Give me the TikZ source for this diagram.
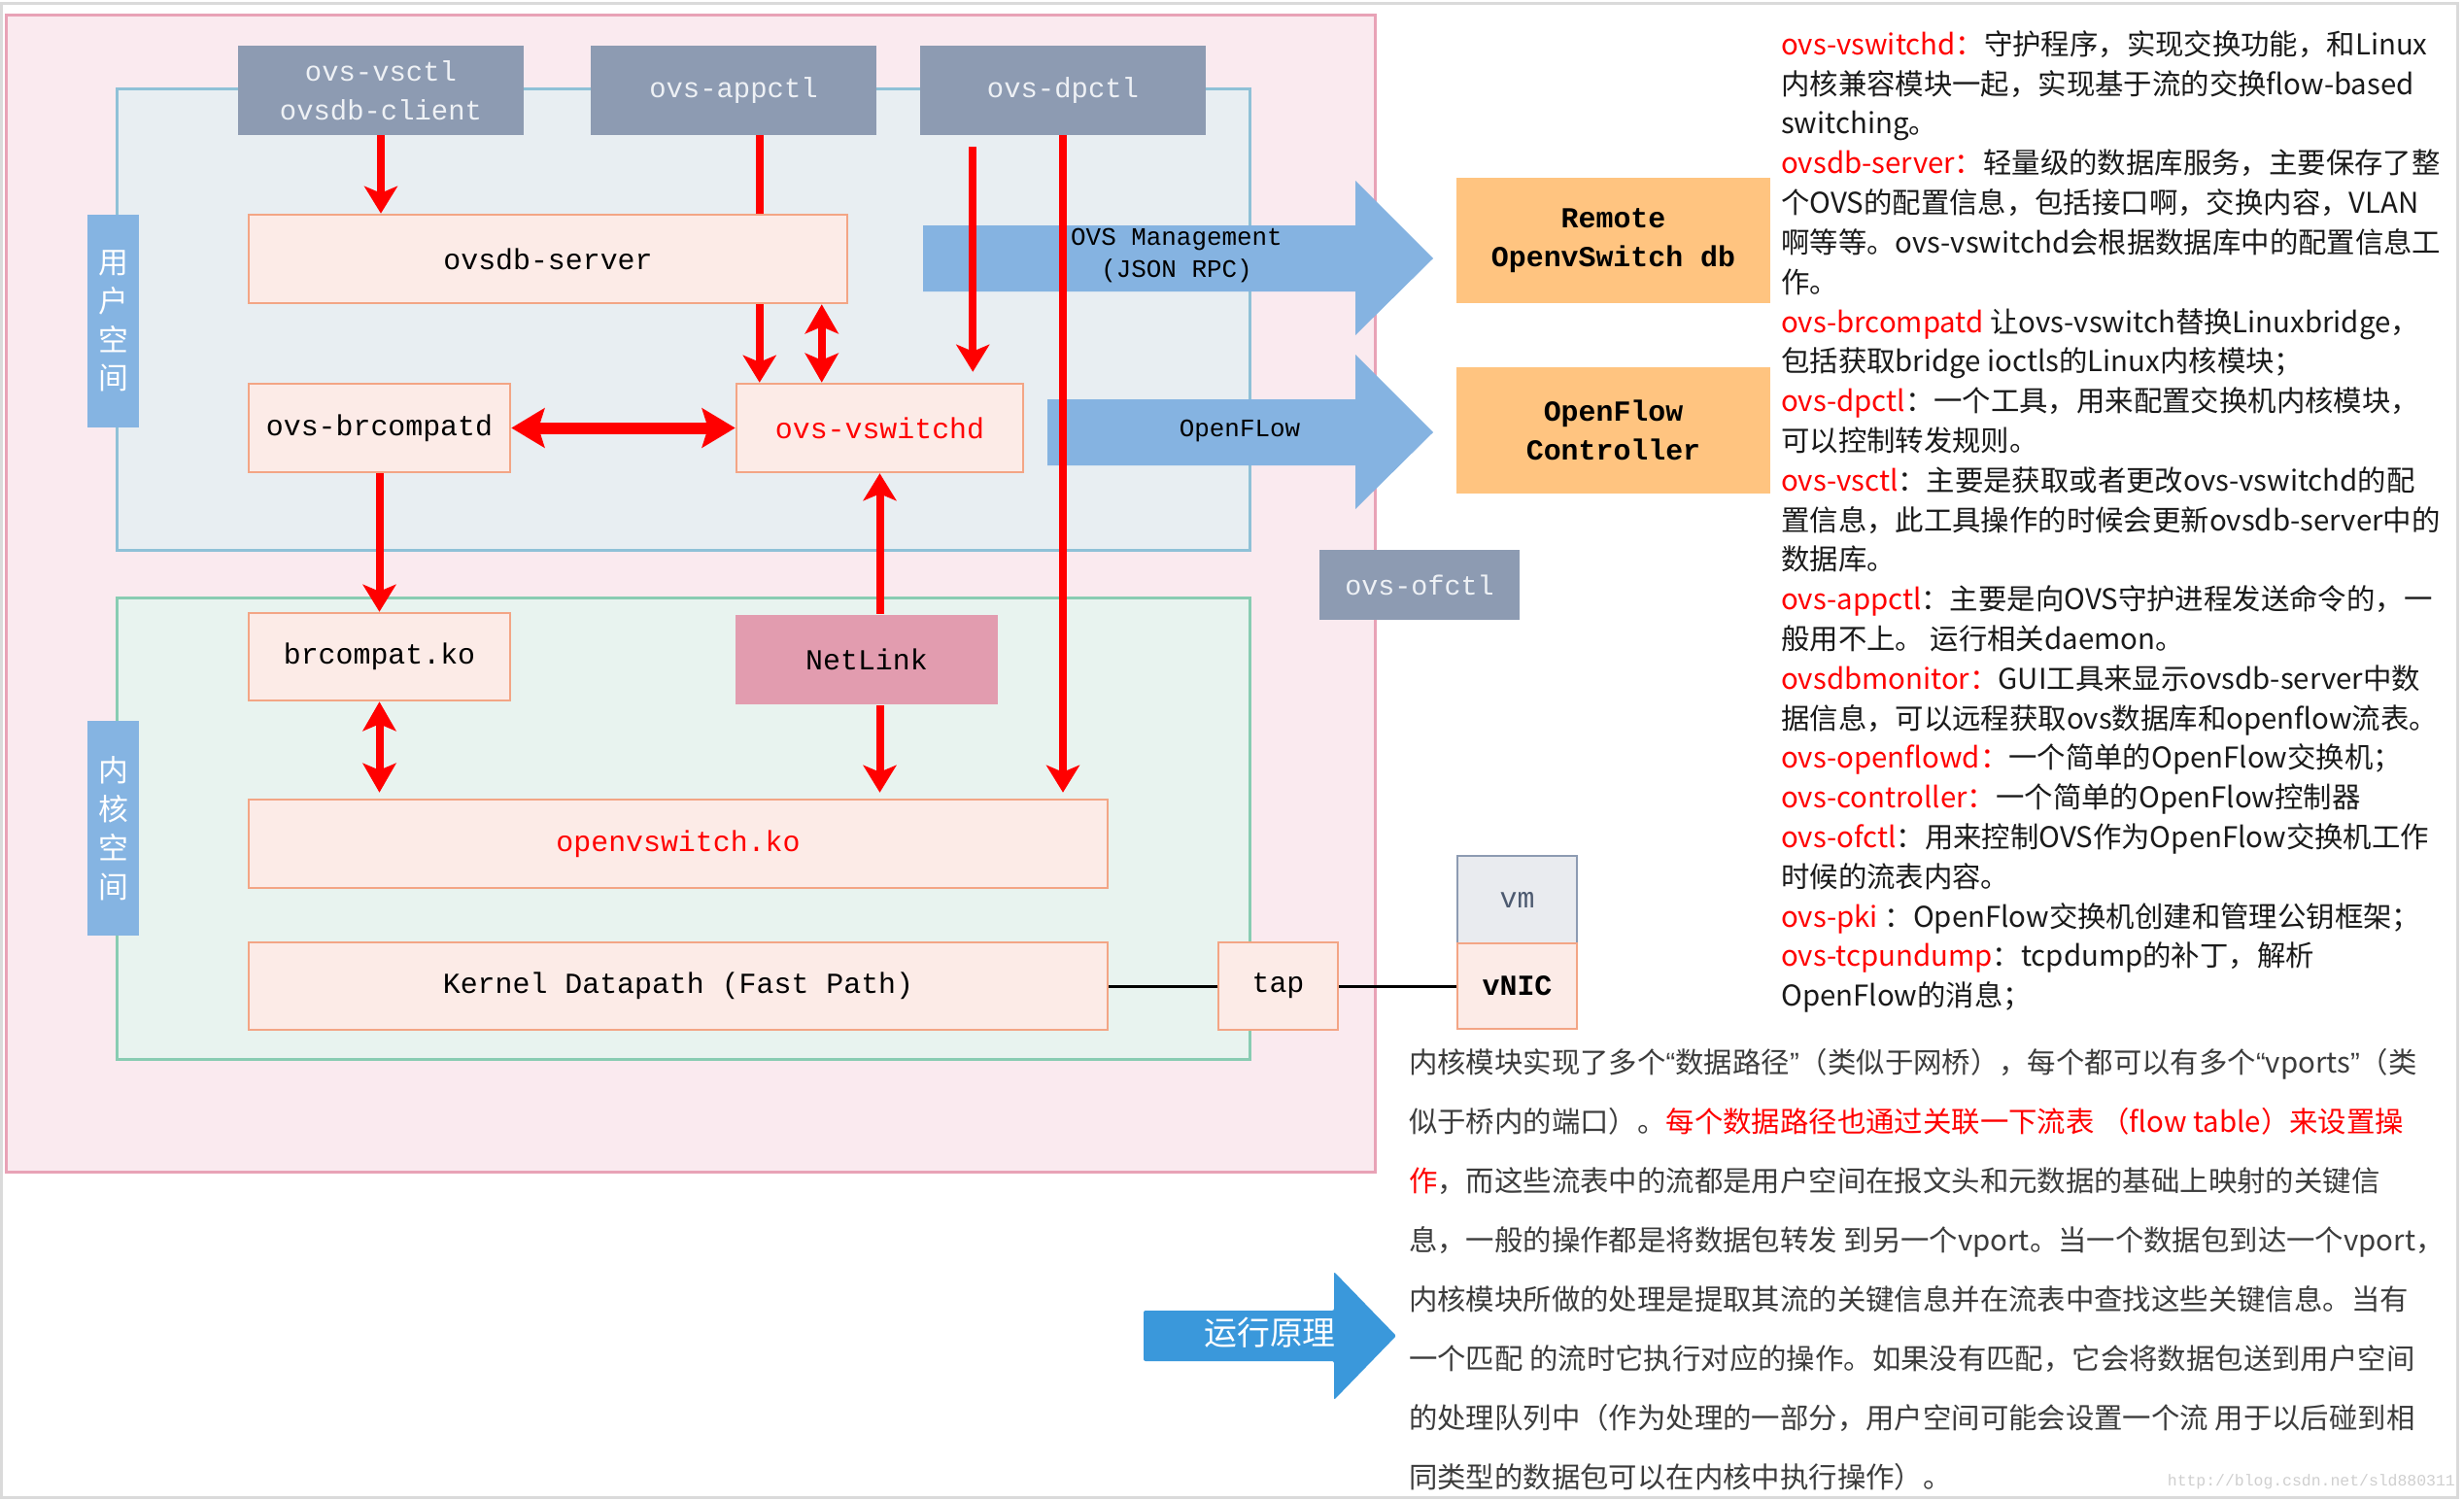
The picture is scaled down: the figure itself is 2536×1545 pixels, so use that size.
\documentclass[tikz,border=0pt]{standalone}
\usepackage{fontspec}
\usetikzlibrary{arrows.meta,calc}
\newfontfamily\boxfont{Liberation Mono}
\newfontfamily\cjk{Noto Sans CJK SC}
\newfontfamily\latq{Liberation Sans}
\definecolor{pinkfill}{HTML}{FAEAEF}
\definecolor{pinkline}{HTML}{E8A2B6}
\definecolor{userfill}{HTML}{E8EEF2}
\definecolor{userline}{HTML}{8FC1D7}
\definecolor{kernfill}{HTML}{E8F3EF}
\definecolor{kernline}{HTML}{88CCB2}
\definecolor{boxfill}{HTML}{FCEBE7}
\definecolor{boxline}{HTML}{F3A585}
\definecolor{grayfill}{HTML}{8D9BB2}
\definecolor{graytext}{HTML}{EEF1F5}
\definecolor{netfill}{HTML}{E29CAF}
\definecolor{orangefill}{HTML}{FFC480}
\definecolor{lblblue}{HTML}{85B4E2}
\definecolor{arrowblue}{HTML}{85B3E1}
\definecolor{runblue}{HTML}{3A98DB}
\definecolor{vmfill}{HTML}{E9EBEF}
\definecolor{vmtext}{HTML}{4D5A70}
\definecolor{txtred}{HTML}{FF0000}
\definecolor{txtblack}{HTML}{1A1A1A}
\definecolor{txtgray}{HTML}{3C3C3C}
\definecolor{framegray}{HTML}{DADADA}
\definecolor{markgray}{HTML}{CFCFCF}
\newcommand\R[1]{{\color{txtred}#1}}
\newcommand\openq{{\latq “}}
\newcommand\closeq{{\latq ”}}
\pgfdeclarelayer{back}
\pgfdeclarelayer{mid}
\pgfsetlayers{back,mid,main}
\tikzset{
  box/.style={draw=boxline, fill=boxfill, line width=2.5bp, inner sep=0pt,
    font=\boxfont\fontsize{30}{36}\selectfont, text=black},
  gbox/.style={draw=none, fill=grayfill, inner sep=0pt, text=graytext, align=center,
    font=\boxfont\fontsize{29}{40}\selectfont},
  obox/.style={draw=none, fill=orangefill, inner sep=0pt, text=black, align=center,
    font=\boxfont\bfseries\fontsize{30}{40}\selectfont},
  vlabel/.style={draw=none, fill=lblblue, inner sep=0pt, text=white, align=center,
    font=\cjk\fontsize{31}{40}\selectfont},
  rarr/.style={draw=txtred, line width=8bp, -{Stealth[length=28bp,width=34bp,inset=7bp]}},
  rdarr/.style={draw=txtred, line width=8bp, {Stealth[length=30bp,width=34bp,inset=7bp]}-{Stealth[length=30bp,width=34bp,inset=7bp]}},
  rhdarr/.style={draw=txtred, line width=12bp, {Stealth[length=34bp,width=40bp,inset=6bp]}-{Stealth[length=34bp,width=40bp,inset=6bp]}},
  blink/.style={draw=black, line width=3bp},
  rtext/.style={inner sep=0pt, anchor=base west, text=txtblack, font=\cjk\fontsize{29.5}{36}\selectfont},
  btext/.style={inner sep=0pt, anchor=base west, text=txtgray, font=\cjk\fontsize{29.5}{36}\selectfont},
}
\newcommand\rline[2]{\node[rtext] (r#1) at (1833,{56.4+40.8*(#1-1)}) {#2};}
\newcommand\bline[2]{\node[btext] (b#1) at (1450,{1104+61*(#1-1)}) {#2};}
\begin{document}
\begin{tikzpicture}[x=1bp,y=-1bp]
\useasboundingbox (0,0) rectangle (2536,1545);
\begin{pgfonlayer}{back}
\fill[white] (0,0) rectangle (2536,1545);
\draw[framegray, line width=3bp] (1.5,3.5) rectangle (2529.5,1541.5);
\draw[pinkline, fill=pinkfill, line width=3bp] (6,16) rectangle (1415,1206);
\draw[userline, fill=userfill, line width=3bp] (120,92) rectangle (1286,566);
\draw[kernline, fill=kernfill, line width=3bp] (120,615) rectangle (1286,1090);
\end{pgfonlayer}

% nodes
\node[vlabel, minimum width=53bp, minimum height=219bp] (lblU) at (116.5,330.5) {用\\户\\空\\间};
\node[vlabel, minimum width=53bp, minimum height=221bp] (lblK) at (116.5,852.5) {内\\核\\空\\间};
\node[gbox, minimum width=294bp, minimum height=92bp] (vsctl) at (392,93) {ovs-vsctl\\ovsdb-client};
\node[gbox, minimum width=294bp, minimum height=92bp] (appctl) at (755,93) {ovs-appctl};
\node[gbox, minimum width=294bp, minimum height=92bp] (dpctl) at (1094,93) {ovs-dpctl};
\node[box, minimum width=616bp, minimum height=91bp] (ovsdb) at (564,266.5) {ovsdb-server};
\node[box, minimum width=269bp, minimum height=91bp] (brcompatd) at (390.5,440.5) {ovs-brcompatd};
\node[box, minimum width=295bp, minimum height=91bp, text=txtred] (vswitchd) at (905.5,440.5) {ovs-vswitchd};
\node[box, minimum width=269bp, minimum height=90bp] (brcompat) at (390.5,676) {brcompat.ko};
\node[box, draw=none, fill=netfill, minimum width=270bp, minimum height=92bp] (netlink) at (892,679) {NetLink};
\node[box, minimum width=884bp, minimum height=91bp, text=txtred] (ovsko) at (698,868.5) {openvswitch.ko};
\node[box, minimum width=884bp, minimum height=90bp] (kdp) at (698,1015) {Kernel Datapath (Fast Path)};
\node[box, minimum width=123bp, minimum height=90bp] (tap) at (1315.5,1015) {tap};
\node[box, draw=grayfill, fill=vmfill, text=vmtext, minimum width=123bp, minimum height=90bp] (vm) at (1561.5,926) {vm};
\node[box, minimum width=123bp, minimum height=88bp, font=\boxfont\bfseries\fontsize{30}{36}\selectfont] (vnic) at (1561.5,1015) {vNIC};
\node[obox, minimum width=323bp, minimum height=129bp] (remote) at (1660.5,247.5) {Remote\\OpenvSwitch db};
\node[obox, minimum width=323bp, minimum height=130bp] (ofc) at (1660.5,443) {OpenFlow\\Controller};
\node[gbox, minimum width=206bp, minimum height=72bp, font=\boxfont\fontsize{28.5}{34}\selectfont] (ofctl) at (1461,602) {ovs-ofctl};

% blue arrows and red connectors
\begin{pgfonlayer}{mid}
\fill[arrowblue] (950,232) -- (1395,232) -- (1395,186) -- (1475,266) -- (1395,345) -- (1395,300) -- (950,300) -- cycle;
\fill[arrowblue] (1078,411) -- (1395,411) -- (1395,365) -- (1475,445) -- (1395,524) -- (1395,479) -- (1078,479) -- cycle;
\draw[rarr] (vsctl.south) -- (vsctl.south |- ovsdb.north);
\coordinate (pa) at ($(vswitchd.north west)+(25,0)$);
\draw[rarr] (appctl.south -| pa) -- (pa);
\coordinate (pb) at ($(vswitchd.north west)+(89,0)$);
\draw[rdarr] (ovsdb.south -| pb) -- (pb);
\coordinate (pc) at ($(vswitchd.north east)+(-53,-11)$);
\coordinate (pc0) at ($(dpctl.south -| pc)+(0,12)$);
\draw[rarr] (pc0) -- (pc);
\draw[rarr, shorten >=6bp] (dpctl.south) -- (dpctl.south |- ovsko.north);
\draw[rhdarr] (brcompatd.east) -- (vswitchd.west);
\draw[rarr] (brcompatd.south) -- (brcompatd.south |- brcompat.north);
\draw[rdarr, shorten >=6bp] (brcompat.south) -- (brcompat.south |- ovsko.north);
\coordinate (nt) at (netlink.north -| vswitchd.south);
\draw[rarr] (nt) -- (vswitchd.south);
\coordinate (nb) at (netlink.south -| vswitchd.south);
\draw[rarr, shorten >=6bp] (nb) -- (nb |- ovsko.north);
\end{pgfonlayer}

\node[inner sep=0pt, align=center, font=\boxfont\fontsize{26}{34}\selectfont] (mgmt) at (1211,263) {OVS Management\\(JSON RPC)};
\node[inner sep=0pt, font=\boxfont\fontsize{26}{34}\selectfont] (oflow) at (1276,444) {OpenFLow};

\draw[blink] (kdp.east) -- (tap.west);
\draw[blink] (tap.east) -- (vnic.west);

% run arrow
\fill[runblue, rounded corners=2bp] (1177,1349) -- (1373,1349) -- (1373,1309) -- (1437,1375) -- (1373,1441) -- (1373,1401) -- (1177,1401) -- cycle;
\node[inner sep=0pt, text=white, font=\cjk\fontsize{34}{40}\selectfont] (run) at (1307,1372) {运行原理};

% right text
\rline{1}{\R{ovs-vswitchd：}守护程序，实现交换功能，和Linux}
\rline{2}{内核兼容模块一起，实现基于流的交换flow-based}
\rline{3}{switching。}
\rline{4}{\R{ovsdb-server：}轻量级的数据库服务，主要保存了整}
\rline{5}{个OVS的配置信息，包括接口啊，交换内容，VLAN}
\rline{6}{啊等等。ovs-vswitchd会根据数据库中的配置信息工}
\rline{7}{作。}
\rline{8}{\R{ovs-brcompatd} 让ovs-vswitch替换Linuxbridge，}
\rline{9}{包括获取bridge ioctls的Linux内核模块；}
\rline{10}{\R{ovs-dpctl}：一个工具，用来配置交换机内核模块，}
\rline{11}{可以控制转发规则。}
\rline{12}{\R{ovs-vsctl}：主要是获取或者更改ovs-vswitchd的配}
\rline{13}{置信息，此工具操作的时候会更新ovsdb-server中的}
\rline{14}{数据库。}
\rline{15}{\R{ovs-appctl}：主要是向OVS守护进程发送命令的，一}
\rline{16}{般用不上。 运行相关daemon。}
\rline{17}{\R{ovsdbmonitor：}GUI工具来显示ovsdb-server中数}
\rline{18}{据信息，可以远程获取ovs数据库和openflow流表。}
\rline{19}{\R{ovs-openflowd：}一个简单的OpenFlow交换机；}
\rline{20}{\R{ovs-controller：}一个简单的OpenFlow控制器}
\rline{21}{\R{ovs-ofctl}：用来控制OVS作为OpenFlow交换机工作}
\rline{22}{时候的流表内容。}
\rline{23}{\R{ovs-pki} ：OpenFlow交换机创建和管理公钥框架；}
\rline{24}{\R{ovs-tcpundump}：tcpdump的补丁，解析}
\rline{25}{OpenFlow的消息；}

% bottom paragraph
\bline{1}{内核模块实现了多个\openq 数据路径\closeq（类似于网桥），每个都可以有多个\openq vports\closeq（类}
\bline{2}{似于桥内的端口）。\R{每个数据路径也通过关联一下流表 （flow table）来设置操}}
\bline{3}{\R{作}，而这些流表中的流都是用户空间在报文头和元数据的基础上映射的关键信}
\bline{4}{息，一般的操作都是将数据包转发 到另一个vport。当一个数据包到达一个vport，}
\bline{5}{内核模块所做的处理是提取其流的关键信息并在流表中查找这些关键信息。当有}
\bline{6}{一个匹配 的流时它执行对应的操作。如果没有匹配，它会将数据包送到用户空间}
\bline{7}{的处理队列中（作为处理的一部分，用户空间可能会设置一个流 用于以后碰到相}
\bline{8}{同类型的数据包可以在内核中执行操作）。}

\node[inner sep=0pt, anchor=east, text=markgray, font=\boxfont\fontsize{16.5}{20}\selectfont] (mark) at (2527,1525) {http://blog.csdn.net/sld880311};
\end{tikzpicture}
\end{document}
